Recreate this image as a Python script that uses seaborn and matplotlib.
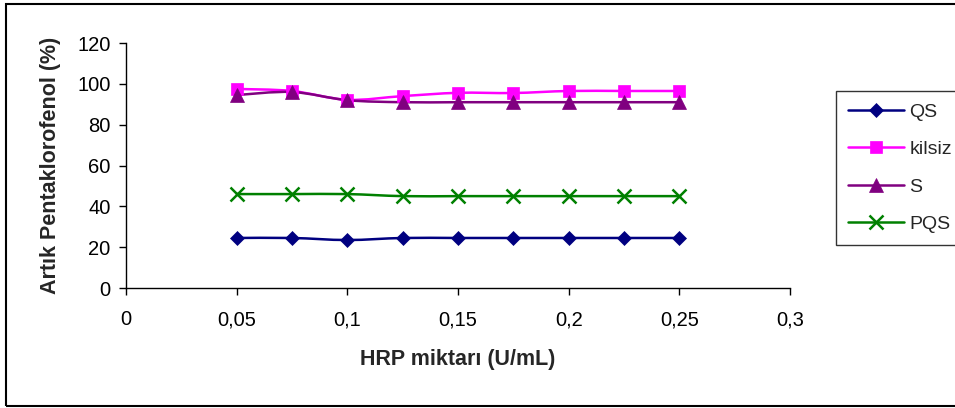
import numpy as np
import pandas as pd
import matplotlib
matplotlib.use("Agg")
import matplotlib.pyplot as plt
import seaborn as sns
from matplotlib.path import Path
from matplotlib.patches import PathPatch, Rectangle
from matplotlib.lines import Line2D
from matplotlib.ticker import FuncFormatter

# HRP amount (U/mL)
hrp = [0.05, 0.075, 0.1, 0.125, 0.15, 0.175, 0.2, 0.225, 0.25]

# Residual pentachlorophenol (%) per treatment
qs = [24.5, 24.5, 23.5, 24.5, 24.5, 24.5, 24.5, 24.5, 24.5]
kilsiz = [97.5, 96.5, 92.2, 94, 95.6, 95.5, 96.5, 96.5, 96.5]
s = [94.5, 96, 92, 91, 91, 91, 91, 91, 91]
pqs = [46, 46, 46, 45, 45, 45, 45, 45, 45]

series_names = ["QS", "kilsiz", "S", "PQS"]
series_values = [qs, kilsiz, s, pqs]
colors = {"QS": "#000080", "kilsiz": "#FF00FF", "S": "#800080", "PQS": "#008000"}
markers = {"QS": "D", "kilsiz": "s", "S": "^", "PQS": "x"}
msizes = {"QS": 7.5, "kilsiz": 8.5, "S": 9.5, "PQS": 10}

x_ticks = [0, 0.05, 0.1, 0.15, 0.2, 0.25, 0.3]
y_ticks = [0, 20, 40, 60, 80, 100, 120]

df = pd.DataFrame({
    "HRP": np.tile(hrp, len(series_names)),
    "value": np.concatenate(series_values),
    "series": np.repeat(series_names, len(hrp)),
})

sns.set_theme(style="white")
plt.rcParams["font.family"] = ["Liberation Sans", "DejaVu Sans"]

fig = plt.figure(figsize=(9.55, 4.08), dpi=100)
ax = fig.add_axes([126 / 955, 1 - 288 / 408, (790 - 126) / 955, (288 - 43) / 408])


def smooth_path(xs, ys):
    """Cardinal-spline (Catmull-Rom style) Bezier path through the points."""
    xs = np.asarray(xs, float)
    ys = np.asarray(ys, float)
    verts = [(xs[0], ys[0])]
    codes = [Path.MOVETO]
    n = len(xs)
    for i in range(n - 1):
        i0 = max(i - 1, 0)
        i3 = min(i + 2, n - 1)
        c1 = (xs[i] + (xs[i + 1] - xs[i0]) / 6, ys[i] + (ys[i + 1] - ys[i0]) / 6)
        c2 = (xs[i + 1] - (xs[i3] - xs[i]) / 6, ys[i + 1] - (ys[i3] - ys[i]) / 6)
        verts += [c1, c2, (xs[i + 1], ys[i + 1])]
        codes += [Path.CURVE4] * 3
    return Path(verts, codes)


# smoothed connecting lines
for name in series_names:
    sub = df[df["series"] == name]
    patch = PathPatch(smooth_path(sub["HRP"], sub["value"]), facecolor="none",
                      edgecolor=colors[name], lw=1.8, zorder=2)
    ax.add_patch(patch)

# markers
for name in series_names:
    sub = df[df["series"] == name]
    sns.lineplot(data=sub, x="HRP", y="value", ax=ax, linestyle="none",
                 marker=markers[name], markersize=msizes[name],
                 color=colors[name], markeredgecolor=colors[name],
                 markeredgewidth=1.8 if name == "PQS" else 0.5,
                 legend=False, zorder=3)

ax.set_xlim(0, 0.3)
ax.set_ylim(0, 120)
ax.set_xticks(x_ticks)
ax.set_yticks(y_ticks)
ax.xaxis.set_major_formatter(FuncFormatter(lambda v, p: ("%g" % round(v, 3)).replace(".", ",")))
ax.tick_params(axis="both", direction="out", length=5, width=1, color="black",
               labelsize=14.5, labelcolor="black", bottom=True, left=True)
ax.tick_params(axis="x", pad=11)
ax.tick_params(axis="y", pad=6)
for side in ["top", "right"]:
    ax.spines[side].set_visible(False)
for side in ["left", "bottom"]:
    ax.spines[side].set_color("black")
    ax.spines[side].set_linewidth(1)

ax.set_xlabel("HRP miktarı (U/mL)", fontsize=15.5, fontweight="bold", labelpad=14)
ax.set_ylabel("Artık Pentaklorofenol (%)", fontsize=15.5, fontweight="bold", labelpad=12)

handles = [Line2D([0], [0], color=colors[n], lw=1.8, marker=markers[n],
                  markersize=msizes[n], markeredgewidth=1.8 if n == "PQS" else 0.5,
                  markeredgecolor=colors[n]) for n in series_names]
leg = fig.legend(handles, series_names, loc="upper left",
                 bbox_to_anchor=(836 / 955, 1 - 91 / 408), frameon=True,
                 fontsize=14, handlelength=2.9, labelspacing=1.02,
                 borderpad=0.62, borderaxespad=0, handletextpad=0.25,
                 fancybox=False)
leg.get_frame().set_edgecolor("black")
leg.get_frame().set_linewidth(1)

# chart outer border
fig.patches.append(Rectangle((6 / 955, 2 / 408), 1.2, 1 - 6 / 408, transform=fig.transFigure,
                             fill=False, edgecolor="black", lw=1.5, zorder=0))

fig.savefig("out.png", dpi=100)
